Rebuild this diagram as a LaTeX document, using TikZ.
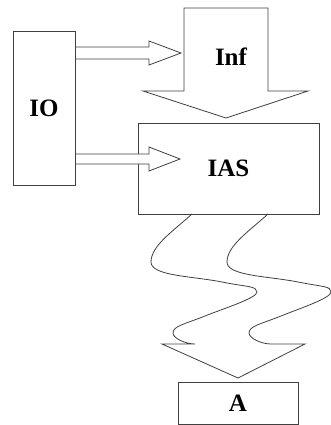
\documentclass[tikz,border=0pt]{standalone}
\usepackage{fontspec}
\setmainfont{Liberation Serif}
\usetikzlibrary{calc}
\begin{document}
\begin{tikzpicture}[x=1pt,y=-1pt,
  line width=0.8pt,
  outline/.style={draw=black!75, line join=miter},
  boxnode/.style={draw=black!75, fill=white, rectangle, inner sep=0pt, outer sep=0pt},
  label/.style={font=\fontsize{25}{30}\selectfont\bfseries, text=black, inner sep=0pt},
  blockarrow/.style={outline, fill=white}]
\useasboundingbox (0,0) rectangle (330,425);

% boxes
\node[boxnode, minimum width=62pt, minimum height=154pt] (io) at (44,108) {};
\node[label] at (io.center) {IO};
\node[boxnode, minimum width=181pt, minimum height=91pt] (ias) at (228.5,168.5) {};
\node[boxnode, minimum width=120pt, minimum height=42pt] (a) at (238,403) {};
\node[label] at (a.center) {A};

% big downward arrow carrying Inf into IAS
\draw[blockarrow] (184,8) -- (268,8) -- (268,91) -- (308,91) -- (226,118)
  -- (143,91) -- (184,91) -- cycle;
\node[label] (inf) at (231,57) {Inf};

% arrows from IO
\draw[blockarrow] (io.east |- 0,47) -- (149,47) -- (149,41) -- (181,53)
  -- (149,65) -- (149,59) -- (io.east |- 0,59);
\draw[blockarrow] (io.east |- 0,154) -- (149,154) -- (149,147) -- (180,159)
  -- (149,171) -- (149,164) -- (io.east |- 0,164);
% keep the right side of IO whole where the arrows leave it
\draw[outline] (io.north east) -- (io.south east);
\node[label] at (ias.center) {IAS};

% wavy arrow from IAS down to A
\draw[outline] (192,214 |- ias.south)
  .. controls (172,232) and (151,246) .. (151,262)
  .. controls (151,276) and (192,276) .. (222,282)
  .. controls (247,287) and (257,286) .. (257,292)
  .. controls (257,298) and (225,308) .. (205,316)
  .. controls (185,324) and (173,326) .. (173,333)
  .. controls (173,338) and (185,344) .. (195,344)
  -- (162,344) -- (238,378) -- (305,344) -- (271,344)
  .. controls (261,344) and (249,338) .. (249,333)
  .. controls (249,326) and (261,324) .. (281,316)
  .. controls (301,308) and (331,298) .. (331,292)
  .. controls (331,286) and (323,287) .. (298,282)
  .. controls (268,276) and (227,276) .. (227,262)
  .. controls (227,246) and (248,232) .. (268,214 |- ias.south);
\end{tikzpicture}
\end{document}
